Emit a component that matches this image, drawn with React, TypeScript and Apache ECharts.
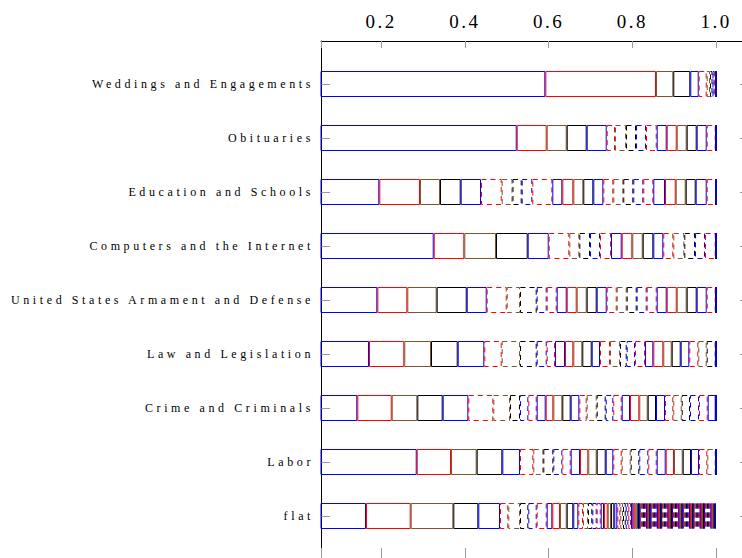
import React, { useEffect, useRef } from "react";
import * as echarts from "echarts";

// Categories, top to bottom
const categories = [
  "Weddings and Engagements",
  "Obituaries",
  "Education and Schools",
  "Computers and the Internet",
  "United States Armament and Defense",
  "Law and Legislation",
  "Crime and Criminals",
  "Labor",
  "flat",
];

// Cumulative shares (right edge of each stacked segment)
const weddings = [0.5924, 0.8567, 0.898, 0.9386, 0.9587, 0.9778, 0.9857, 0.9916, 0.9964, 0.9988, 1.0];
const obituaries = [0.5241, 0.5957, 0.6435, 0.6912, 0.739, 0.7588, 0.7851, 0.809, 0.8328, 0.8584, 0.8823, 0.9062, 0.93, 0.9539, 0.9778, 0.9993, 1.0];
const education = [0.1959, 0.2931, 0.3409, 0.3903, 0.4388, 0.4882, 0.514, 0.536, 0.5613, 0.6091, 0.633, 0.6592, 0.6831, 0.707, 0.7309, 0.7547, 0.7786, 0.8025, 0.8264, 0.8503, 0.8782, 0.9038, 0.9277, 0.9515, 0.9778, 1.0];
const computers = [0.3259, 0.3989, 0.4746, 0.5503, 0.6005, 0.6497, 0.6736, 0.6991, 0.723, 0.7493, 0.7748, 0.8001, 0.825, 0.8503, 0.8741, 0.898, 0.9243, 0.9499, 0.9737, 0.9993, 1.0];
const armament = [0.1912, 0.2628, 0.333, 0.4047, 0.4524, 0.5002, 0.5319, 0.5718, 0.5957, 0.6196, 0.6435, 0.6673, 0.6912, 0.7151, 0.739, 0.7629, 0.7867, 0.8106, 0.8345, 0.8584, 0.8823, 0.9062, 0.93, 0.9539, 0.9778, 0.9993, 1.0];
const law = [0.1713, 0.2556, 0.3194, 0.3832, 0.4467, 0.4882, 0.5319, 0.5718, 0.5957, 0.6155, 0.6394, 0.6592, 0.6807, 0.7032, 0.723, 0.7469, 0.7708, 0.7867, 0.8066, 0.8305, 0.8503, 0.8741, 0.8942, 0.9157, 0.9362, 0.9577, 0.9778, 0.9993, 1.0];
const crime = [0.1434, 0.2256, 0.2867, 0.3473, 0.4085, 0.4682, 0.5081, 0.5319, 0.5518, 0.5718, 0.5933, 0.6115, 0.633, 0.653, 0.6736, 0.6912, 0.7151, 0.7366, 0.7547, 0.7748, 0.7946, 0.8168, 0.8369, 0.8567, 0.8782, 0.898, 0.9181, 0.9379, 0.9594, 0.9802, 0.9993, 1.0];
const labor = [0.2853, 0.3672, 0.4285, 0.4897, 0.5319, 0.5637, 0.5876, 0.6115, 0.633, 0.653, 0.6752, 0.695, 0.7151, 0.7366, 0.7547, 0.7748, 0.7963, 0.8168, 0.8383, 0.8584, 0.8799, 0.8997, 0.9205, 0.9403, 0.9594, 0.9792, 0.9993, 1.0];
const flat = [
  0.1642, 0.2709, 0.3727, 0.4324, 0.4842, 0.504, 0.5319, 0.5518, 0.5718, 0.5957,
  0.6091, 0.6275, 0.6435, 0.6592, 0.6712, 0.6824, 0.6943, 0.7046, 0.7151, 0.7247,
  0.7325, 0.7414, 0.7493, 0.7571, 0.7643, 0.7715, 0.7779, 0.7844, 0.7906, 0.797,
  0.8025, 0.8073, 0.8121, 0.8161, 0.8202, 0.8228, 0.8253, 0.8279, 0.8305, 0.833,
  0.8356, 0.8381, 0.8407, 0.8433, 0.8458, 0.8484, 0.851, 0.8535, 0.8561, 0.8586,
  0.8612, 0.8638, 0.8663, 0.8689, 0.8715, 0.874, 0.8766, 0.8791, 0.8817, 0.8843,
  0.8868, 0.8894, 0.892, 0.8945, 0.8971, 0.8996, 0.9022, 0.9048, 0.9073, 0.9099,
  0.9125, 0.915, 0.9176, 0.9201, 0.9227, 0.9253, 0.9278, 0.9304, 0.933, 0.9355,
  0.9381, 0.9406, 0.9432, 0.9458, 0.9483, 0.9509, 0.9535, 0.956, 0.9586, 0.9611,
  0.9637, 0.9663, 0.9688, 0.9714, 0.974, 0.9765, 0.9791, 0.9816, 0.9842, 0.9868,
  0.9893, 0.9919, 0.9945, 0.997, 1.0,
];

const rows = [weddings, obituaries, education, computers, armament, law, crime, labor, flat];

const xTickLabels = ["0.2", "0.4", "0.6", "0.8", "1.0"];
const xMin = 0.0567;
const xMax = 1.0764;

const cycleColors = ["#0000ff", "#ff0000", "#7a5530", "#000000", "#0000ff", "#ff0000", "#7a5530", "#000000", "#0000ff", "#ff0000"];

function toIncrements(cum: number[]): number[] {
  return cum.map((c, i) => +(c - (i ? cum[i - 1] : 0)).toFixed(6));
}

export default function App() {
  const ref = useRef<HTMLDivElement>(null);
  useEffect(() => {
    if (!ref.current) return;
    document.body.style.margin = "0";
    const chart = echarts.init(ref.current, undefined, { renderer: "svg" });
    const incs = rows.map(toIncrements);
    const nSeg = Math.max(...rows.map((r) => r.length));
    const series: any[] = [];
    for (let k = 0; k < nSeg; k++) {
      const st = k % 10;
      series.push({
        type: "bar",
        stack: "total",
        xAxisIndex: 0,
        yAxisIndex: 0,
        barWidth: 26,
        silent: true,
        emphasis: { disabled: true },
        data: incs.map((r) => (k < r.length ? r[k] : 0)),
        itemStyle: {
          color: "rgba(0,0,0,0)",
          borderColor: cycleColors[st],
          borderWidth: 1,
          borderType: st >= 5 ? [5, 4] : "solid",
        },
      });
    }
    const labelFmt = (v: number) => {
      const k = Math.round(v * 5);
      return Math.abs(v * 5 - k) < 1e-6 && k >= 1 && k <= 5 ? (k / 5).toFixed(1) : "";
    };
    chart.setOption({
      animation: false,
      grid: [
        { left: 321, top: 57, width: 427, height: 486 },
        { left: 321, top: 41, width: 427, height: 518 },
      ],
      xAxis: [
        {
          gridIndex: 0,
          type: "value",
          position: "top",
          min: xMin,
          max: xMax,
          offset: 16,
          axisLine: { show: true, lineStyle: { color: "#000", width: 1 } },
          axisTick: { show: true, inside: true, length: 7, lineStyle: { color: "#999" } },
          axisLabel: {
            formatter: labelFmt,
            fontSize: 19,
            fontFamily: "Liberation Serif",
            color: "#000",
            margin: 10,
          },
          splitLine: { show: false },
        },
        {
          gridIndex: 0,
          type: "value",
          position: "bottom",
          min: xMin,
          max: xMax,
          offset: 16,
          axisLine: { show: true, lineStyle: { color: "#000", width: 1 } },
          axisTick: { show: true, inside: true, length: 11, lineStyle: { color: "#999" } },
          axisLabel: { show: false },
          splitLine: { show: false },
        },
        { gridIndex: 1, type: "value", show: false, min: 0, max: 1 },
      ],
      yAxis: [
        {
          gridIndex: 0,
          type: "category",
          data: categories,
          inverse: true,
          axisLine: { show: false },
          axisTick: { show: true, inside: true, length: 9, alignWithLabel: true, interval: 0, lineStyle: { color: "#999" } },
          axisLabel: { fontSize: 12, fontFamily: "Liberation Serif", color: "#000", margin: 7, interval: 0 },
          splitLine: { show: false },
        },
        {
          gridIndex: 0,
          type: "category",
          data: categories,
          inverse: true,
          position: "right",
          axisLine: { show: false },
          axisTick: { show: true, inside: true, length: 8, alignWithLabel: true, interval: 0, lineStyle: { color: "#999" } },
          axisLabel: { show: false },
          splitLine: { show: false },
        },
        {
          gridIndex: 1,
          type: "value",
          min: 0,
          max: 1,
          axisLine: { show: true, lineStyle: { color: "#000", width: 1 } },
          axisTick: { show: false },
          axisLabel: { show: false },
          splitLine: { show: false },
        },
      ],
      series,
    });
    const spaceText = () => {
      const texts = ref.current?.querySelectorAll("text") || [];
      texts.forEach((t: any) => {
        const s = t.textContent;
        if (categories.includes(s)) t.style.letterSpacing = "3.6px";
        else if (xTickLabels.includes(s)) t.style.letterSpacing = "2.5px";
      });
    };
    spaceText();
    chart.on("finished", spaceText);
    const raf = requestAnimationFrame(spaceText);
    return () => {
      cancelAnimationFrame(raf);
      chart.dispose();
    };
  }, []);
  return (
    <div style={{ position: "fixed", left: 0, top: 0, width: 742, height: 558, overflow: "hidden", background: "#fff" }}>
      <div ref={ref} style={{ width: 770, height: 580 }} />
    </div>
  );
}
